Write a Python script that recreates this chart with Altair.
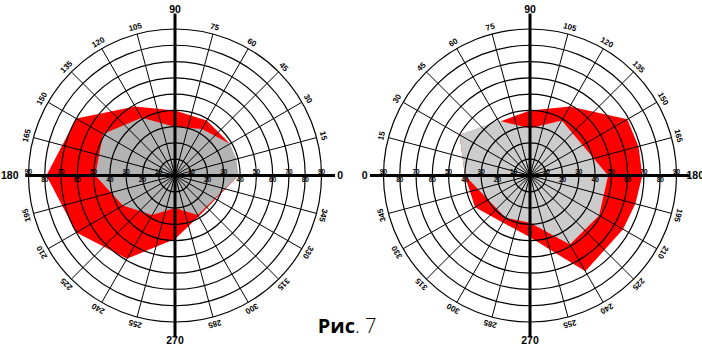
import math
import altair as alt
import pandas as pd

# ---------------- data ----------------
ring_values = [10, 20, 30, 40, 50, 60, 70, 80, 90]
spoke_angles = list(range(0, 360, 15))
rim_angles = [a for a in spoke_angles if a % 90 != 0]
axis_labels = ["0", "90", "180", "270"]
axis_label_angles = [0, 90, 180, 270]

left_red_angles = [0, 30, 60, 90, 120, 150, 180, 210, 240, 270, 300]
left_red_r = [39, 39, 39, 40, 49, 70, 79, 70, 59, 39, 29]
left_gray_angles = [0, 15, 30, 60, 90, 120, 150, 180, 210, 240, 270, 300]
left_gray_r = [39, 39, 39, 33, 30, 41, 51, 49, 37, 28, 20, 28]

right_red_angles = [0, 30, 60, 90, 120, 150, 165, 180, 195, 210, 240, 270, 330]
right_red_r = [40, 50, 38, 40, 49, 69, 69, 69, 67, 66, 68, 38, 39]
right_gray_angles = [0, 30, 60, 90, 120, 180, 210, 240, 270, 300]
right_gray_r = [40, 50, 39, 29, 39, 48, 49, 49, 29, 30]

caption_bold = "Рис"
caption_rest = ". 7"

# ---------------- layout constants ----------------
W, H = 702, 345
S = 1.628                  # pixels per unit of radius
CX_L, CX_R, CY = 175.0, 530.0, 175.5
OX_R = (CX_R - CX_L) / S   # offset of the right diagram centre, in units
RIM_R = 94
BIG_R = 101.5
FONT = "Liberation Sans"
CAP_FONT = "Open Sans"

xs = alt.Scale(domain=[-CX_L / S, (W - CX_L) / S], nice=False, zero=False)
ys = alt.Scale(domain=[-(H - CY) / S, CY / S], nice=False, zero=False)
rs = alt.Scale(type="linear", domain=[0, 90], range=[0, 90 * S])
X = lambda f: alt.X(f, type="quantitative", scale=xs, axis=None)
Y = lambda f: alt.Y(f, type="quantitative", scale=ys, axis=None)
RAD = "*PI/180"


def diagram(mirror, ox, red_a, red_r, gray_a, gray_r, gray_color, h_ext):
    def poly(angles, radii, color):
        df = pd.DataFrame({"angle": angles, "r": radii})
        return (
            alt.Chart(df)
            .transform_calculate(
                x=f"{ox} + {mirror}*datum.r*cos(datum.angle{RAD})",
                y=f"datum.r*sin(datum.angle{RAD})",
            )
            .mark_line(filled=True, interpolate="linear-closed", color=color)
            .encode(x=X("x"), y=Y("y"), order=alt.Order("angle:Q"))
        )

    red = poly(red_a, red_r, "#ff0000")
    gray = poly(gray_a, gray_r, gray_color)

    rings = (
        alt.Chart(pd.DataFrame({"r": ring_values}))
        .transform_calculate(cx=f"{ox}", cy="0")
        .mark_arc(theta=0, theta2=2 * math.pi, stroke="black", strokeWidth=1.2,
                  fillOpacity=0)
        .encode(
            x=X("cx"),
            y=Y("cy"),
            radius=alt.Radius("r:Q", scale=rs, stack=False),
        )
    )

    spokes = (
        alt.Chart(pd.DataFrame({"angle": spoke_angles}))
        .transform_calculate(
            x0=f"{ox}",
            y0="0",
            x2=f"{ox} + {mirror}*90*cos(datum.angle{RAD})",
            y2=f"90*sin(datum.angle{RAD})",
        )
        .mark_rule(color="black", strokeWidth=1)
        .encode(x=X("x0"), y=Y("y0"), x2=alt.X2("x2"), y2=alt.Y2("y2"))
    )

    axes_df = pd.DataFrame(
        {"x": [ox + h_ext[0], ox], "y": [0, -99.5], "x2": [ox + h_ext[1], ox], "y2": [0, 99.5]}
    )
    axes = (
        alt.Chart(axes_df)
        .mark_rule(color="black", strokeWidth=3)
        .encode(x=X("x"), y=Y("y"), x2=alt.X2("x2"), y2=alt.Y2("y2"))
    )

    rot_expr = "(450 - datum.angle) % 360" if mirror == 1 else "(datum.angle + 270) % 360"
    rim = (
        alt.Chart(pd.DataFrame({"angle": rim_angles}))
        .transform_calculate(
            x=f"{ox} + {mirror}*{RIM_R}*cos(datum.angle{RAD})",
            y=f"{RIM_R}*sin(datum.angle{RAD})",
            rot=rot_expr,
            label="'' + datum.angle",
        )
        .mark_text(font=FONT, fontSize=8, fontWeight="bold", color="black", baseline="middle")
        .encode(x=X("x"), y=Y("y"), text=alt.Text("label:N"),
                angle=alt.Angle("rot:Q", scale=None))
    )

    big = (
        alt.Chart(pd.DataFrame({"label": axis_labels, "angle": axis_label_angles}))
        .transform_calculate(
            x=f"{ox} + {mirror}*{BIG_R}*cos(datum.angle{RAD})",
            y=f"{BIG_R}*sin(datum.angle{RAD})",
        )
        .mark_text(font=FONT, fontSize=10.5, fontWeight="bold", color="black", baseline="middle")
        .encode(x=X("x"), y=Y("y"), text=alt.Text("label:N"))
    )

    ticks = []
    for parity, dy in [(1, -4), (0, 4.5)]:
        vals = [v for v in ring_values if (v // 10) % 2 == parity]
        tdf = pd.DataFrame({"v": vals + vals, "side": [-1] * len(vals) + [1] * len(vals)})
        ticks.append(
            alt.Chart(tdf)
            .transform_calculate(xp=f"{ox} + datum.side*datum.v", y0="0",
                                 lab="'' + datum.v")
            .mark_text(font=FONT, fontSize=6.5, fontWeight="bold", color="black",
                       baseline="middle", dy=dy)
            .encode(x=X("xp"), y=Y("y0"), text=alt.Text("lab:N"))
        )

    return [red, gray, rings, spokes, axes, rim, big] + ticks


left_layers = diagram(1, 0, left_red_angles, left_red_r, left_gray_angles, left_gray_r,
                      "#b3b3b3", (-92, 98.3))
right_layers = diagram(-1, OX_R, right_red_angles, right_red_r, right_gray_angles,
                       right_gray_r, "#cccccc", (-98.3, 98.3))

cap_df = pd.DataFrame({"a": [caption_bold], "b": [caption_rest]})
cap_x = (355 - CX_L) / S
cap_y = (CY - 333) / S
cap_bold = (
    alt.Chart(cap_df)
    .transform_calculate(x=str(cap_x), y=str(cap_y))
    .mark_text(font=CAP_FONT, fontSize=20, fontWeight="bold", align="right",
               baseline="alphabetic", color="black")
    .encode(x=X("x"), y=Y("y"), text="a:N")
)
cap_rest = (
    alt.Chart(cap_df)
    .transform_calculate(x=str(cap_x), y=str(cap_y))
    .mark_text(font=CAP_FONT, fontSize=20, fontWeight=300, align="left",
               baseline="alphabetic", color="black")
    .encode(x=X("x"), y=Y("y"), text="b:N")
)

chart = (
    alt.layer(*left_layers, *right_layers, cap_bold, cap_rest)
    .properties(width=W, height=H, padding=0, background="white",
                autosize=alt.AutoSizeParams(type="none"))
    .configure_view(strokeWidth=0)
)

chart.save("out.html", embed_options={"renderer": "svg", "actions": False})
